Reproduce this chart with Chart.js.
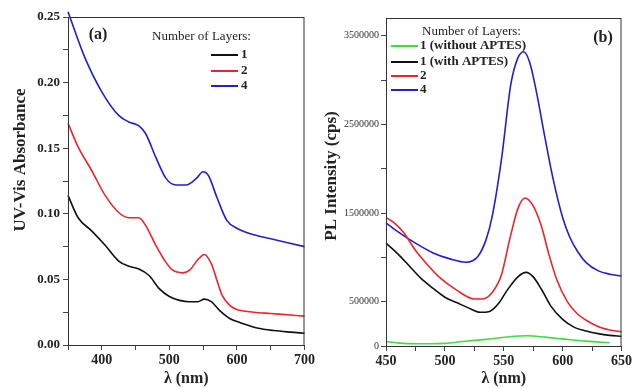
<!DOCTYPE html>
<html>
<head>
<meta charset="utf-8">
<script src="https://cdn.jsdelivr.net/npm/chart.js@4.4.0/dist/chart.umd.min.js"></script>
<style>
  html, body { margin: 0; padding: 0; background: #fff; }
  #wrap { position: relative; width: 634px; height: 388px; }
  .panel { position: absolute; top: 0; width: 317px; height: 388px; }
  #pa { left: 0; }
  #pb { left: 317px; }
</style>
</head>
<body>
<div id="wrap">
  <div class="panel" id="pa"><canvas id="chartA"></canvas></div>
  <div class="panel" id="pb"><canvas id="chartB"></canvas></div>
</div>
<script>
// ---- panel (a): UV-Vis absorbance ----
const uvX1 = [350,365,385,405,425,440,455,470,485,500,515,530,542,552,562,575,590,605,630,655,680,700];
const uvY1 = [0.114,0.097,0.087,0.076,0.064,0.060,0.058,0.053,0.043,0.037,0.034,0.033,0.033,0.035,0.033,0.026,0.020,0.017,0.013,0.011,0.0098,0.009];
const uvX2 = [350,365,385,405,425,440,455,465,480,495,505,520,530,542,552,562,570,578,590,600,625,650,675,700];
const uvY2 = [0.169,0.151,0.133,0.114,0.101,0.097,0.097,0.091,0.076,0.063,0.057,0.055,0.057,0.065,0.069,0.062,0.050,0.038,0.030,0.027,0.025,0.024,0.023,0.022];
const uvX4 = [350,375,400,425,440,455,465,480,495,510,525,540,550,558,570,585,600,625,650,675,700];
const uvY4 = [0.254,0.219,0.193,0.175,0.170,0.167,0.161,0.143,0.127,0.122,0.122,0.127,0.132,0.129,0.113,0.095,0.089,0.084,0.081,0.078,0.075];
const uvLabels = ['1', '2', '4'];

// ---- panel (b): PL intensity ----
const plXg = [450,460,475,490,500,515,535,555,570,585,600,620,640];
const plYg = [50000,35000,25000,25000,30000,50000,75000,105000,115000,100000,80000,55000,37000];
const plX1 = [450,460,470,480,490,500,510,520,530,538,545,553,562,569,575,582,590,600,610,620,630,640,650];
const plY1 = [1160000,1040000,900000,760000,650000,550000,490000,430000,380000,390000,470000,630000,780000,830000,780000,640000,450000,300000,210000,170000,140000,120000,110000];
const plX2 = [450,457,465,475,485,495,510,525,532,540,548,555,562,568,575,582,588,595,604,612,620,630,640,650];
const plY2 = [1450000,1390000,1280000,1080000,920000,780000,630000,530000,530000,600000,800000,1200000,1550000,1670000,1580000,1350000,1050000,750000,500000,370000,290000,220000,180000,160000];
const plX4 = [450,460,475,490,505,518,528,535,540,548,556,562,567,572,578,585,592,600,606,613,620,630,640,650];
const plY4 = [1390000,1290000,1160000,1050000,980000,945000,1010000,1200000,1450000,2100000,2950000,3250000,3320000,3200000,2850000,2350000,1880000,1450000,1230000,1060000,940000,850000,810000,790000];
const plLabels = ['1 (without APTES)', '1 (with APTES)', '2', '4'];

const legendTitle = 'Number of Layers:';
const uvTicksX = [400, 500, 600, 700];
const plTicksY = [0, 500000, 1000000, 1500000, 2000000, 2500000, 3000000, 3500000];
const plTickLabels = [0, 500000, 1500000, 2500000, 3500000];

const SERIF = '"Liberation Serif", "Times New Roman", serif';

function pts(xs, ys) {
  return xs.map((x, i) => ({ x: x, y: ys[i] }));
}

function ds(label, xs, ys, color) {
  return {
    label: label,
    data: pts(xs, ys),
    borderColor: color,
    backgroundColor: color,
    borderWidth: 1.6,
    pointRadius: 0,
    showLine: true,
    cubicInterpolationMode: 'monotone',
    clip: false
  };
}

// frame around the plot area + legend + panel letter + y title
const decor = {
  id: 'decor',
  afterDraw(chart, args, opts) {
    const c = chart.ctx, a = chart.chartArea;
    c.save();
    c.strokeStyle = '#333';
    c.lineWidth = 1;
    c.strokeRect(a.left + 0.5, a.top + 0.5, a.right - a.left - 1, a.bottom - a.top);

    c.fillStyle = '#222';
    c.textBaseline = 'middle';
    c.font = '13px ' + SERIF;
    c.textAlign = 'left';
    c.fillText(legendTitle, opts.titleX, opts.titleY);
    chart.data.datasets.forEach((d, i) => {
      const y = opts.rowY[i];
      c.strokeStyle = d.borderColor;
      c.lineWidth = 2;
      c.beginPath();
      c.moveTo(opts.lineX0, y);
      c.lineTo(opts.lineX1, y);
      c.stroke();
      c.fillStyle = '#222';
      c.font = 'bold 13px ' + SERIF;
      c.fillText(d.label, opts.textX, y);
    });

    c.font = 'bold 16px ' + SERIF;
    c.textAlign = 'center';
    c.fillText(opts.panel, opts.panelX, opts.panelY);

    // rotated y-axis title
    c.translate(opts.yTitleX, opts.yTitleY);
    c.rotate(-Math.PI / 2);
    c.font = 'bold 17px ' + SERIF;
    c.fillText(opts.yTitle, 0, 0);
    c.restore();
  }
};

Chart.register(decor);

function tickGrid() {
  return { drawOnChartArea: false, drawTicks: true, tickLength: 5, color: '#444' };
}

new Chart(document.getElementById('chartA'), {
  type: 'scatter',
  data: {
    datasets: [
      ds(uvLabels[0], uvX1, uvY1, '#111111'),
      ds(uvLabels[1], uvX2, uvY2, '#e8262b'),
      ds(uvLabels[2], uvX4, uvY4, '#1f22c8')
    ]
  },
  options: {
    responsive: true,
    maintainAspectRatio: false,
    animation: false,
    layout: { padding: { top: 17, right: 9, left: 0, bottom: 0 } },
    plugins: {
      legend: { display: false },
      tooltip: { enabled: false },
      decor: {
        titleX: 152, titleY: 37,
        lineX0: 211, lineX1: 238, textX: 241,
        rowY: [55, 71, 86],
        panel: '(a)', panelX: 98, panelY: 35,
        yTitle: 'UV-Vis Absorbance', yTitleX: 21, yTitleY: 160
      }
    },
    scales: {
      x: {
        type: 'linear', min: 350, max: 700,
        afterFit: s => { s.height = 43; },
        grid: tickGrid(),
        border: { color: '#333' },
        ticks: {
          stepSize: 50, autoSkip: false, maxRotation: 0, padding: 2,
          color: '#222', font: { family: SERIF, size: 14, weight: 'bold' },
          callback: v => uvTicksX.includes(Math.round(v)) ? String(Math.round(v)) : ''
        },
        title: { display: true, text: 'λ (nm)', color: '#222', padding: 0,
                 font: { family: SERIF, size: 16, weight: 'bold' } }
      },
      y: {
        min: 0, max: 0.25,
        afterFit: s => { s.width = 68; },
        grid: tickGrid(),
        border: { color: '#333' },
        ticks: {
          stepSize: 0.025, autoSkip: false, padding: 3,
          color: '#222', font: { family: SERIF, size: 13, weight: 'bold' },
          callback: v => (Math.round(v * 1000) % 50 === 0) ? v.toFixed(2) : ''
        }
      }
    }
  }
});

new Chart(document.getElementById('chartB'), {
  type: 'scatter',
  data: {
    datasets: [
      ds(plLabels[0], plXg, plYg, '#3ede3e'),
      ds(plLabels[1], plX1, plY1, '#111111'),
      ds(plLabels[2], plX2, plY2, '#e8262b'),
      ds(plLabels[3], plX4, plY4, '#1f22c8')
    ]
  },
  options: {
    responsive: true,
    maintainAspectRatio: false,
    animation: false,
    layout: { padding: { top: 18, right: 8, left: 0, bottom: 0 } },
    plugins: {
      legend: { display: false },
      tooltip: { enabled: false },
      decor: {
        titleX: 105, titleY: 32,
        lineX0: 74, lineX1: 101, textX: 103,
        rowY: [46, 62, 76, 90],
        panel: '(b)', panelX: 286, panelY: 38,
        yTitle: 'PL Intensity (cps)', yTitleX: 15, yTitleY: 176
      }
    },
    scales: {
      x: {
        type: 'linear', min: 450, max: 650,
        afterFit: s => { s.height = 42; },
        grid: tickGrid(),
        border: { color: '#333' },
        ticks: {
          stepSize: 25, autoSkip: false, maxRotation: 0, padding: 2,
          color: '#222', font: { family: SERIF, size: 14, weight: 'bold' },
          callback: v => (Math.round(v) % 50 === 0) ? String(Math.round(v)) : ''
        },
        title: { display: true, text: 'λ (nm)', color: '#222', padding: 0,
                 font: { family: SERIF, size: 16, weight: 'bold' } }
      },
      y: {
        min: 0, max: 3700000,
        afterFit: s => { s.width = 69; },
        afterBuildTicks: s => { s.ticks = plTicksY.map(v => ({ value: v })); },
        grid: tickGrid(),
        border: { color: '#333' },
        ticks: {
          autoSkip: false, padding: 2,
          color: '#333', font: { family: SERIF, size: 10 },
          callback: v => plTickLabels.includes(v) ? String(v) : ''
        }
      }
    }
  }
});
</script>
</body>
</html>
